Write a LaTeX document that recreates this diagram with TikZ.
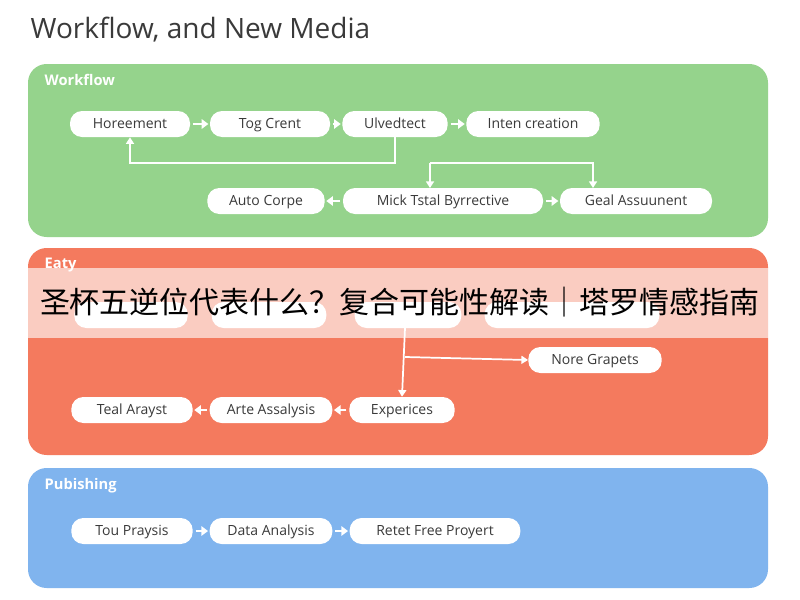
\documentclass[tikz,border=0pt]{standalone}
\usepackage{fontspec}
\setmainfont{Open Sans}
\newfontfamily\cjk{Noto Sans CJK SC}
\usetikzlibrary{arrows.meta}
\definecolor{gpanel}{HTML}{95D38C}
\definecolor{rpanel}{HTML}{F47A5E}
\definecolor{bpanel}{HTML}{80B4EE}
\definecolor{ttl}{HTML}{3A3A3A}
\begin{document}
\begin{tikzpicture}[x=0.75pt,y=-0.75pt,
  panel/.style={rounded corners=14pt,draw=none},
  box/.style={fill=white,rounded corners=9pt,minimum height=19.5pt,inner sep=2pt,text height=8pt,text depth=2pt,font=\fontsize{10.5}{12}\selectfont,text=ttl},
  lbl/.style={anchor=west,text=white,font=\bfseries\fontsize{11}{13}\selectfont},
  con/.style={draw=white,line width=1.3pt,-{Triangle[length=5pt,width=6pt]}},
  stp/.style={draw=white,line width=1.6pt,-{Triangle[length=5pt,width=7pt]},shorten >=1pt,shorten <=2pt}]
\useasboundingbox (0,0) rectangle (800,600);
\fill[white] (0,0) rectangle (800,600);
\node[anchor=west,text=ttl,font=\fontsize{21}{25}\selectfont] (title) at (26,30) {Workflow, and New Media};
% panels
\fill[gpanel,panel] (28,64) rectangle (768,237);
\fill[rpanel,panel] (28,248) rectangle (768,455);
\fill[bpanel,panel] (28,468) rectangle (768,588);
\node[lbl] (lw) at (40,80) {Workflow};
\node[lbl] (le) at (40,265) {Eaty};
\node[lbl] (lp) at (40,486) {Pubishing};
% green
\node[box,minimum width=90pt] (g1) at (130,124) {Horeement};
\node[box,minimum width=90pt] (g2) at (270,124) {Tog Crent};
\node[box,minimum width=79pt] (g3) at (395,124) {Ulvedtect};
\node[box,minimum width=100pt] (g4) at (533,124) {Inten creation};
\node[box,minimum width=88pt] (g5) at (266,201) {Auto Corpe};
\node[box,minimum width=150pt] (g6) at (443,201) {Mick Tstal Byrrective};
\node[box,minimum width=114pt] (g7) at (636,201) {Geal Assuunent};
\draw[stp] (g1) -- (g2); \draw[stp] (g2) -- (g3); \draw[stp] (g3) -- (g4);
\draw[stp] (g6) -- (g5); \draw[stp] (g6) -- (g7);
\draw[con] (g3.south) -- (395,163) -| (g1.south);
\coordinate (gj) at (430,163);
\draw[con] (gj) -- (430,188);
\draw[con] (gj) -| (593,188);
% red
\node[box,minimum width=85pt] (r1) at (131,315) {};
\node[box,minimum width=86pt] (r2) at (269,315) {};
\node[box,minimum width=80pt] (r3) at (408,315) {};
\node[box,minimum width=131pt] (r4) at (572,315) {};
\node[box,minimum width=100pt] (r5) at (595,360) {Nore Grapets};
\node[box,minimum width=91pt] (r6) at (132,410) {Teal Arayst};
\node[box,minimum width=92pt] (r7) at (271,410) {Arte Assalysis};
\node[box,minimum width=79pt] (r8) at (402,410) {Experices};
\draw[stp] (r7) -- (r6); \draw[stp] (r8) -- (r7);
\draw[con] (405,328) -- (r8.north);
\draw[con] (405,357) -- (r5.west);
% blue
\node[box,minimum width=91pt] (b1) at (132,531) {Tou Praysis};
\node[box,minimum width=92pt] (b2) at (271,531) {Data Analysis};
\node[box,minimum width=128pt] (b3) at (435,531) {Retet Free Proyert};
\draw[stp] (b1) -- (b2); \draw[stp] (b2) -- (b3);
% banner
\fill[white,opacity=0.62] (0,268) rectangle (800,338);
\node[font=\cjk\fontsize{22.5}{26}\selectfont,text=black] (banner) at (400,302) {圣杯五逆位代表什么？复合可能性解读｜塔罗情感指南};
\end{tikzpicture}
\end{document}
